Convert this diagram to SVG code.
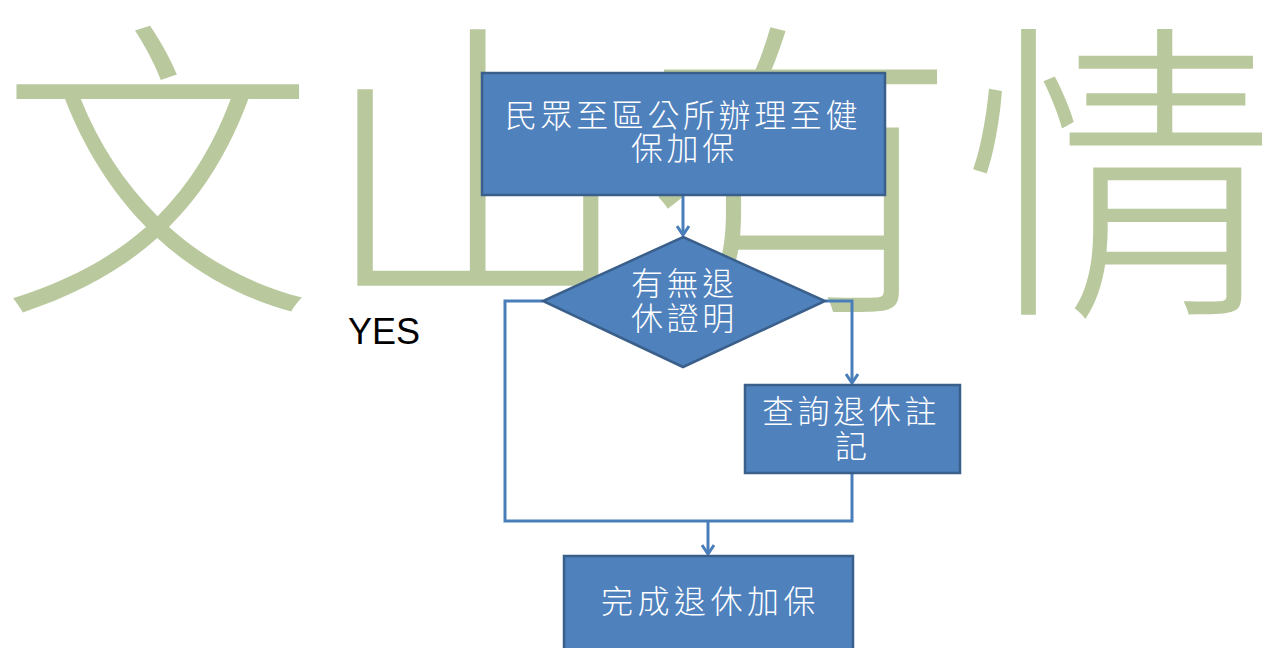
<svg xmlns="http://www.w3.org/2000/svg" width="1279" height="648" viewBox="0 0 1279 648">
<style>
.bg{font-family:"Noto Sans CJK TC","Noto Sans CJK SC",sans-serif;font-size:315px;font-weight:300;fill:#B9C99D;text-anchor:middle}
.box{fill:#4F81BD;stroke:#3A5F8B;stroke-width:2.5}
.lbl{font-family:"Noto Sans CJK TC","Noto Sans CJK SC",sans-serif;font-size:32px;font-weight:300;fill:#FFFFFF;letter-spacing:3.6px}
.con{fill:none;stroke:#4A7EBB;stroke-width:3}
</style>
<defs>
<marker id="arr" viewBox="0 0 14 14" refX="12" refY="7" markerWidth="14" markerHeight="14" markerUnits="userSpaceOnUse" orient="auto">
<path d="M3,1 L12,7 L3,13" fill="none" stroke="#4A7EBB" stroke-width="3"/>
</marker>
</defs>
<rect width="1279" height="648" fill="#FFFFFF"/>
<g id="background">
<text class="bg" x="157" y="290">文</text>
<text class="bg" x="478" y="288">山</text>
<text class="bg" x="800" y="290">有</text>
<text class="bg" x="1120" y="292">情</text>
</g>
<g id="connectors">
<path class="con" d="M683,195 L683,235" marker-end="url(#arr)"/>
<path class="con" d="M543,301 L505,301 L505,521 L852,521 L852,473"/>
<path class="con" d="M825,301 L852,301 L852,383" marker-end="url(#arr)"/>
<path class="con" d="M708,521 L708,554" marker-end="url(#arr)"/>
</g>
<g id="node-start">
<rect class="box" x="482" y="73" width="403" height="122"/>
<text class="lbl" x="505" y="127">民眾至區公所辦理至健</text>
<text class="lbl" x="631" y="160">保加保</text>
</g>
<g id="node-decision">
<polygon class="box" points="683,237 825,301 683,367 543,301"/>
<text class="lbl" x="631" y="295">有無退</text>
<text class="lbl" x="631" y="330">休證明</text>
</g>
<g id="node-query">
<rect class="box" x="745" y="385" width="215" height="88"/>
<text class="lbl" x="762" y="423">查詢退休註</text>
<text class="lbl" x="835" y="458">記</text>
</g>
<g id="node-end">
<rect class="box" x="564" y="556" width="289" height="100"/>
<text class="lbl" x="601" y="613" style="letter-spacing:4.5px">完成退休加保</text>
</g>
<g id="label-yes">
<text x="348" y="344" font-family="Liberation Sans, Arial, sans-serif" font-size="36" fill="#000000">YES</text>
</g>
</svg>
